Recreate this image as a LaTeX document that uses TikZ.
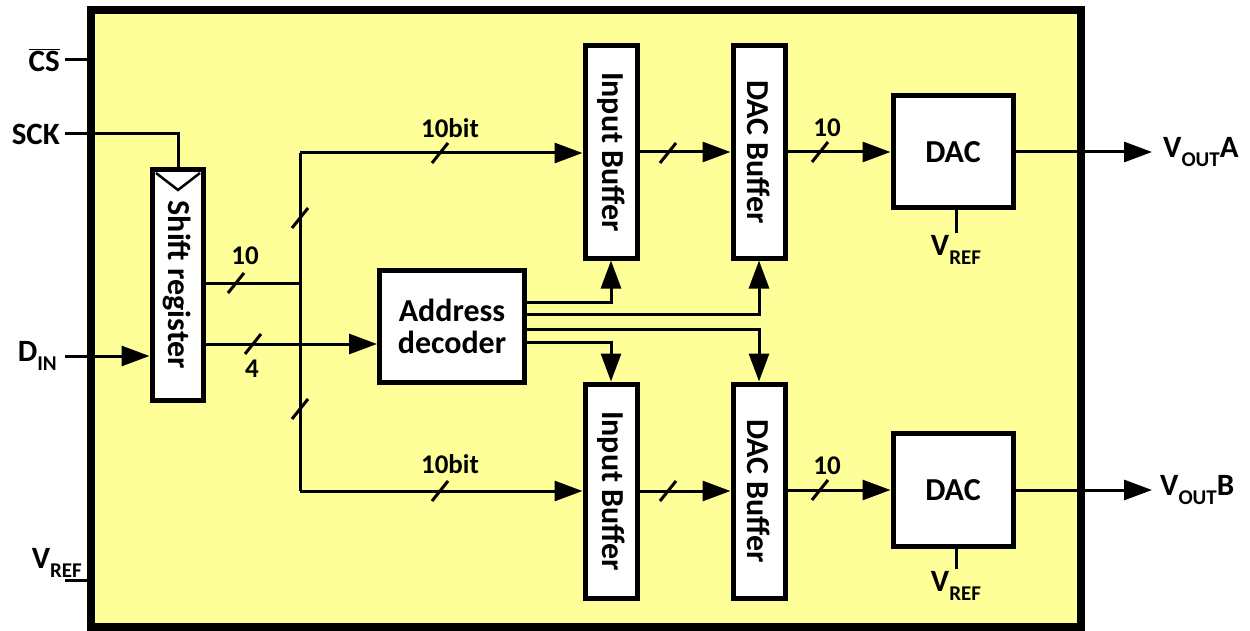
\documentclass[tikz,border=0pt]{standalone}
\usepackage{fontspec}
\setmainfont{Carlito}
\usetikzlibrary{arrows.meta}
\definecolor{chipbg}{HTML}{FFFF99}
\newcommand\lsub[1]{\raisebox{-0.28em}{\fontsize{21}{21}\selectfont #1}}
\newcommand\busslash[1]{\draw[wire] (#1) ++(-8,10) -- ++(16,-20);}
\begin{document}
\begin{tikzpicture}[x=1pt,y=-1pt,font=\bfseries,
  wire/.style={line width=3pt},
  arr/.style={line width=3pt,-{Triangle[length=28pt,width=20pt]}},
  blk/.style={draw,line width=5pt,fill=white,inner sep=0pt},
  vblk/.style={blk,minimum width=52pt,minimum height=212pt},
  boxtxt/.style={font=\bfseries\fontsize{32}{34}\selectfont,inner sep=0pt},
  pin/.style={font=\bfseries\fontsize{31}{33}\selectfont,inner sep=0pt},
  buslbl/.style={font=\bfseries\fontsize{27}{29}\selectfont,inner sep=0pt}]
\useasboundingbox (0,0) rectangle (1250,631);
% chip body
\draw[line width=8pt,fill=chipbg] (91,10) rectangle (1081,627);

% blocks
\node[blk,minimum width=51pt,minimum height=230pt] (sr) at (177.5,285) {};
\node[boxtxt,rotate=-90] (srt) at (177.5,285) {Shift register};
\node[vblk] (ibA) at (611,152) {};
\node[boxtxt,rotate=-90] (ibAt) at (611,152) {Input Buffer};
\node[vblk] (dbA) at (759,152) {};
\node[boxtxt,rotate=-90] (dbAt) at (759,152) {DAC Buffer};
\node[vblk,minimum height=214pt] (ibB) at (611,491) {};
\node[boxtxt,rotate=-90] (ibBt) at (611,491) {Input Buffer};
\node[vblk,minimum height=214pt] (dbB) at (759,491) {};
\node[boxtxt,rotate=-90] (dbBt) at (759,491) {DAC Buffer};
\node[blk,minimum width=145pt,minimum height=112pt,boxtxt,align=center] (ad) at (452,326) {Address\\[-2pt]decoder};
\node[blk,minimum width=120pt,minimum height=112pt,boxtxt] (dacA) at (953,152) {DAC};
\node[blk,minimum width=120pt,minimum height=113pt,boxtxt] (dacB) at (953,490) {DAC};

% clock marker
\draw[line width=2.5pt,line join=miter] (156,173) -- (178,190) -- (200,173);

% pins
\node[pin,anchor=east] (cs) at (60,60) {$\overline{\mbox{CS}}$};
\coordinate (csin) at (91,60);
\draw[wire] (cs.east)++(5,0) coordinate (cse) -- (csin);
\node[pin,anchor=east] (sck) at (60,134) {SCK};
\coordinate (sckc) at (178,134);
\draw[wire] (sck.east)++(5,0) coordinate (scke) -- (sckc) -- (sckc |- sr.north);
\node[pin,anchor=east] (din) at (57,356) {D\lsub{IN}};
\draw[arr] (din.east)++(8,0) coordinate (dine) -- (sr.west |- dine);
\node[pin,anchor=east] (vref) at (82,563) {V\lsub{REF}};
\coordinate (vrefa) at (65,580);
\coordinate (vrefb) at (91,580);
\draw[wire] (vrefa) -- (vrefb);

% bus from shift register
\coordinate (b10) at (sr.east |- 0,283);
\coordinate (bj) at (300,283);
\coordinate (btop) at (300,153);
\coordinate (bbot) at (300,491);
\draw[wire] (b10) -- (bj);
\draw[wire] (btop) -- (bbot);
\draw[arr] (btop) -- (ibA.west |- btop);
\draw[arr] (bbot) -- (ibB.west |- bbot);
\busslash{236,283}
\node[buslbl] (l10) at (245,256) {10};
\busslash{300,218}
\busslash{300,409}
\busslash{440,153}
\node[buslbl] (l10bA) at (450,128) {10bit};
\busslash{440,491}
\node[buslbl] (l10bB) at (450,464) {10bit};

% 4-bit address
\coordinate (b4) at (sr.east |- 0,344);
\draw[arr] (b4) -- (ad.west |- b4);
\busslash{253,344}
\node[buslbl] (l4) at (252,369) {4};

% decoder outputs
\draw[arr] (ad.east |- 0,302) -| (ibA.south);
\draw[arr] (ad.east |- 0,314) -| (dbA.south);
\draw[arr] (ad.east |- 0,329) -| (dbB.north);
\draw[arr] (ad.east |- 0,342) -| (ibB.north);

% buffer chains
\draw[arr] (ibA.east) -- (dbA.west);
\busslash{668,153}
\draw[arr] (ibB.east) -- (dbB.west);
\busslash{668,491}
\draw[arr] (dbA.east) -- (dacA.west);
\busslash{820,152}
\node[buslbl] (l10A) at (827,128) {10};
\draw[arr] (dbB.east |- dacB.west) -- (dacB.west);
\busslash{820,490}
\node[buslbl] (l10B) at (827,466) {10};

% DAC vref
\coordinate (vrA) at (956,233);
\draw[wire] (dacA.south -| vrA) -- (vrA);
\node[pin] (vrAl) at (956,250) {V\lsub{REF}};
\coordinate (vrB) at (956,569);
\draw[wire] (dacB.south -| vrB) -- (vrB);
\node[pin] (vrBl) at (956,586) {V\lsub{REF}};

% outputs
\coordinate (oA) at (1152,152);
\draw[arr] (dacA.east) -- (oA);
\node[pin,anchor=west] (voA) at (1163,152) {V\lsub{OUT}A};
\coordinate (oB) at (1152,490);
\draw[arr] (dacB.east) -- (oB);
\node[pin,anchor=west] (voB) at (1160,490) {V\lsub{OUT}B};
\end{tikzpicture}
\end{document}
